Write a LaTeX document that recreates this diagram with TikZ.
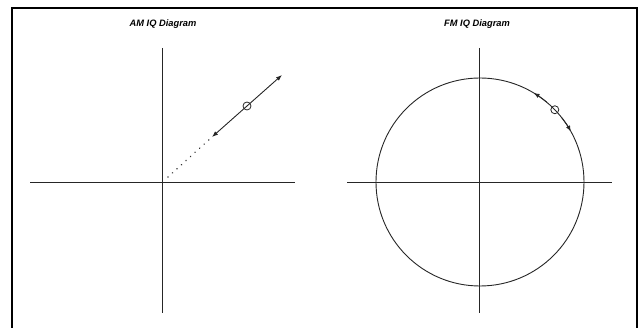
\documentclass[tikz,border=0pt]{standalone}
\usepackage{fontspec}
\setsansfont{Liberation Sans}
\usetikzlibrary{arrows.meta,positioning}

\begin{document}
\begin{tikzpicture}[
      x=1pt, y=-1pt,
      axis/.style={draw=black!85, line width=0.9pt},
      title/.style={font=\sffamily\bfseries\itshape\fontsize{9.3}{10}\selectfont},
      marker/.style={circle, draw=black!85, line width=0.8pt, minimum size=8pt, inner sep=0pt},
      tip/.style={-{Latex[length=6pt,width=4.5pt]}, draw=black!85, line width=0.9pt},
    ]
    \useasboundingbox (0,0) rectangle (643,328);
    \draw[line width=2.6pt] (12,8) rectangle (637,345);

    % AM IQ diagram
    \node[title] (amtitle) at (163,24) {AM IQ Diagram};
    \coordinate (amO) at (162,182);
    \draw[axis] (162,48) -- (162,313);
    \draw[axis] (30,182) -- (295,182);
    \node[marker] (amdot) at (247,106) {};
    \coordinate (amhi) at (282,75);
    \coordinate (amlo) at (212,137);
    \coordinate (amdash) at (168,177);
    \draw[draw=black!80, line width=1.6pt, line cap=round, dash pattern=on 0.1pt off 6pt] (amdash) -- (amlo);
    \draw[tip] (amdot.center) -- (amhi);
    \draw[tip] (amdot.center) -- (amlo);

    % FM IQ diagram
    \node[title] (fmtitle) at (477,24) {FM IQ Diagram};
    \coordinate (fmO) at (480,182);
    \draw[axis] (479,48) -- (479,313);
    \draw[axis] (347,182) -- (612,182);
    \draw[axis] (fmO) circle (104);
    \node[marker] (fmdot) at ([shift={(-44:104)}]fmO) {};
    \draw[tip] ([shift={(-50:104)}]fmO) arc (-50:-59:104);
    \draw[tip] ([shift={(-38:104)}]fmO) arc (-38:-29:104);
  \end{tikzpicture}
\end{document}
